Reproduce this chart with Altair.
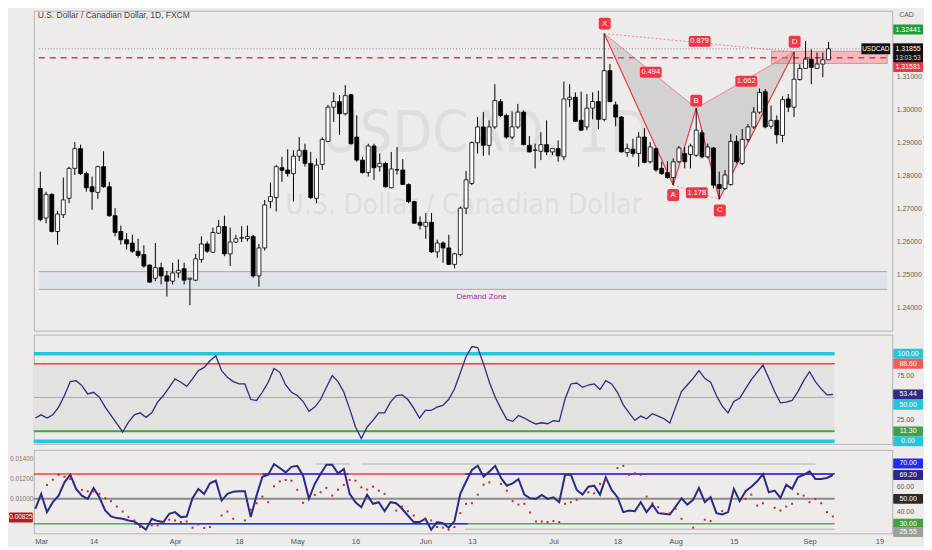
import altair as alt
import pandas as pd

# ---------------- values ----------------
opens = [1.2761,1.2671,1.2743,1.2630,1.2681,1.2731,1.2822,1.2882,1.2806,1.2766,
         1.2749,1.2827,1.2766,1.2678,1.2630,1.2605,1.2595,1.2570,1.2560,1.2528,
         1.2488,1.2520,1.2495,1.2479,1.2504,1.2517,1.2485,1.2482,1.2545,1.2592,
         1.2567,1.2625,1.2645,1.2562,1.2598,1.2610,1.2608,1.2615,1.2495,1.2580,
         1.2721,1.2733,1.2824,1.2817,1.2806,1.2859,1.2877,1.2837,1.2731,1.2834,
         1.2904,1.3008,1.3025,1.2988,1.3046,1.2917,1.2847,1.2809,1.2890,1.2827,
         1.2837,1.2763,1.2817,1.2817,1.2773,1.2721,1.2658,1.2646,1.2658,1.2568,
         1.2595,1.2580,1.2530,1.2560,1.2701,1.2776,1.2900,1.2948,1.2892,1.2948,
         1.3025,1.2983,1.2917,1.2948,1.2993,1.2892,1.2877,1.2874,1.2894,1.2872,
         1.2882,1.2857,1.3031,1.3038,1.2968,1.2948,1.3005,1.3025,1.2971,1.3119,
         1.3015,1.2978,1.2870,1.2880,1.2867,1.2917,1.2842,1.2882,1.2822,1.2809,
         1.2794,1.2842,1.2867,1.2864,1.2862,1.2930,1.2857,1.2884,1.2773,1.2761,
         1.2773,1.2904,1.2837,1.2910,1.2948,1.2993,1.3055,1.2950,1.2968,1.2922,
         1.3033,1.3008,1.3092,1.3126,1.3154,1.3126,1.3139,1.3152]
highs = [1.2812,1.2751,1.2746,1.2693,1.2794,1.2827,1.2902,1.2894,1.2812,1.2797,
         1.2830,1.2874,1.2781,1.2701,1.2648,1.2625,1.2620,1.2608,1.2588,1.2530,
         1.2595,1.2535,1.2510,1.2535,1.2545,1.2535,1.2489,1.2562,1.2615,1.2600,
         1.2642,1.2665,1.2678,1.2642,1.2620,1.2646,1.2648,1.2620,1.2592,1.2726,
         1.2779,1.2832,1.2857,1.2880,1.2877,1.2917,1.2897,1.2872,1.2852,1.2917,
         1.3015,1.3053,1.3045,1.3075,1.3048,1.2983,1.2857,1.2897,1.2897,1.2867,
         1.2842,1.2872,1.2887,1.2850,1.2776,1.2723,1.2676,1.2686,1.2686,1.2605,
         1.2600,1.2620,1.2565,1.2706,1.2814,1.2904,1.2978,1.2993,1.2968,1.3078,
         1.3033,1.2988,1.2995,1.3018,1.2998,1.2920,1.2897,1.2932,1.2968,1.2884,
         1.2907,1.3086,1.3078,1.3053,1.3055,1.3048,1.3053,1.3058,1.3232,1.3139,
         1.3025,1.2981,1.2897,1.2912,1.2932,1.2944,1.2902,1.2885,1.2842,1.2844,
         1.2852,1.2890,1.2887,1.2897,1.3005,1.2938,1.2897,1.2887,1.2812,1.2817,
         1.2927,1.2922,1.2942,1.2957,1.3008,1.3065,1.3063,1.3013,1.2983,1.3041,
         1.3048,1.3176,1.3139,1.3209,1.3184,1.3174,1.3174,1.3206]
lows = [1.2661,1.2655,1.2627,1.2590,1.2671,1.2716,1.2802,1.2802,1.2751,1.2696,
        1.2729,1.2763,1.2675,1.2615,1.2590,1.2575,1.2565,1.2550,1.2520,1.2474,
        1.2479,1.2469,1.2432,1.2469,1.2489,1.2469,1.2406,1.2479,1.2535,1.2565,
        1.2565,1.2623,1.2555,1.2525,1.2595,1.2598,1.2600,1.2489,1.2462,1.2572,
        1.2701,1.2691,1.2781,1.2797,1.2721,1.2844,1.2827,1.2729,1.2716,1.2817,
        1.2902,1.2963,1.2924,1.2983,1.2894,1.2842,1.2806,1.2797,1.2787,1.2812,
        1.2763,1.2761,1.2803,1.2771,1.2716,1.2654,1.2636,1.2608,1.2565,1.2550,
        1.2535,1.2528,1.2518,1.2555,1.2683,1.2771,1.2867,1.2860,1.2862,1.2942,
        1.2978,1.2912,1.2910,1.2942,1.2892,1.2870,1.2822,1.2847,1.2862,1.2862,
        1.2842,1.2847,1.3008,1.2963,1.2935,1.2938,1.2971,1.2941,1.2965,1.3023,
        1.2950,1.2870,1.2857,1.2857,1.2827,1.2837,1.2837,1.2812,1.2802,1.2791,
        1.2771,1.2839,1.2822,1.2822,1.2857,1.2852,1.2852,1.2761,1.2728,1.2756,
        1.2769,1.2837,1.2832,1.2902,1.2942,1.2988,1.2944,1.2942,1.2897,1.2902,
        1.2993,1.2978,1.3089,1.3124,1.3078,1.3124,1.3099,1.3152]
closes = [1.2666,1.2743,1.2630,1.2683,1.2726,1.2822,1.2882,1.2806,1.2763,1.2751,
          1.2827,1.2766,1.2678,1.2627,1.2605,1.2592,1.2570,1.2557,1.2525,1.2476,
          1.2520,1.2495,1.2479,1.2504,1.2512,1.2482,1.2488,1.2547,1.2592,1.2570,
          1.2627,1.2645,1.2562,1.2598,1.2608,1.2611,1.2615,1.2495,1.2580,1.2711,
          1.2736,1.2827,1.2816,1.2806,1.2859,1.2877,1.2837,1.2733,1.2832,1.2910,
          1.3008,1.3025,1.2988,1.3043,1.2897,1.2847,1.2809,1.2890,1.2824,1.2837,
          1.2766,1.2820,1.2818,1.2773,1.2721,1.2655,1.2649,1.2658,1.2568,1.2595,
          1.2580,1.2530,1.2562,1.2701,1.2787,1.2900,1.2948,1.2892,1.2948,1.3028,
          1.2983,1.2917,1.2948,1.2993,1.2894,1.2872,1.2878,1.2894,1.2872,1.2882,
          1.2860,1.3033,1.3038,1.2965,1.2938,1.3005,1.3025,1.2971,1.3119,1.3025,
          1.2978,1.2872,1.2882,1.2867,1.2917,1.2840,1.2887,1.2817,1.2806,1.2794,
          1.2842,1.2884,1.2842,1.2890,1.2938,1.2857,1.2887,1.2771,1.2761,1.2802,
          1.2904,1.2842,1.2910,1.2948,1.2993,1.3053,1.2948,1.2968,1.2924,1.3031,
          1.3008,1.3093,1.3126,1.3154,1.3129,1.3139,1.3152,1.31855]

osc_a = [26.5,30.2,26.5,30.2,39,52.3,68.2,69.3,63.6,54.1,56,50.3,39,29.5,20,10.6,21.9,30.2,32.5,27.3,
         32.5,44.7,52.3,61.7,71.2,67.4,62.8,71.2,80.7,84.4,92,97.7,80.7,73.1,68.2,65.5,65.5,47.7,46.6,56,
         67.4,83.3,78.8,64.3,56,52.3,45.4,34.1,39,47.7,61.7,75,68.2,56,37,16.3,3,16.3,23.9,32.5,
         32.5,44.7,52.3,53,47.7,37.8,26.5,35.2,35.2,39,40.9,47.7,59.8,78,97,108.3,107.2,88.2,67.4,50.3,
         37,25,22.7,29.5,26.5,22.7,19.7,21.1,20,23.4,22.7,48.4,65.5,66.6,61.7,64.3,65.5,59.1,69.3,65.5,
         56,41.6,32.5,23.9,28.8,25.7,31.4,28.8,25.7,20.8,39,56.8,64.3,71.9,80.7,71.9,67.4,52.3,40.1,32.5,
         45.4,49.2,59.8,70.5,78.8,87.2,71.9,56.8,43.9,44.7,46.6,56.8,69.3,79.5,68.2,59.8,53,53.44]

osc_b = [42,54,39.3,47.3,52.6,63.3,69.4,58,52.6,50,58.8,51.3,40.6,35.8,34.5,34,32.6,31.8,28.6,25.2,
         34,32.1,31.3,38,39.3,35.3,35.8,50.5,58,54,62.5,64.6,48.6,54,55.8,56.1,56.1,35.3,52.6,67.8,
         69.4,78,74.8,71.3,75.8,76.6,68.6,50,62,70,77.4,77.4,70.5,74,54,47.3,43.3,53.2,46,47.3,
         40.1,47.3,46.5,42,36.6,31.3,31.3,34,25.2,31.3,30.5,26.8,32.1,54,64,73.2,76.6,67.8,72.1,76.6,
         66.8,60.6,62.5,66,53.4,50.5,50,53.2,50,51.3,47.3,69.4,69.4,57.2,53.4,59.8,60.6,53.4,67.3,57.2,
         51.3,39.3,40.6,40.1,47.3,39.3,45.4,38.5,38,37.4,43.8,50.5,45.4,49.2,58.8,47.3,51.3,38.5,37.4,39.3,
         58,48.1,56.1,59.8,64.1,70,55.3,56.6,50.8,61.4,58,67.3,69.4,72.1,66,66,66.8,69.2]

dot_i = [2,3,4,5,6,8,9,10,11,12,13,14,15,16,17,18,20,21,22,23,24,25,26,27,28,29,30,32,33,34,
         36,37,38,39,40,41,42,43,44,45,46,48,49,50,51,52,53,54,55,56,57,58,59,60,62,63,64,65,67,68,
         69,70,71,72,73,74,75,76,77,78,80,81,82,83,84,85,86,87,88,89,90,91,92,93,95,96,97,98,100,101,
         102,103,104,105,106,107,108,109,110,111,113,115,116,118,122,123,124,125,127,128,129,130,131,132,
         133,134,135,136,137]
dot_v = [61.2,65.4,69.4,67.8,66,57.2,56.1,56.1,54,50.5,48.1,43.8,39.8,35.3,32.6,27.3,28.6,28.6,31.3,33.2,
         32.6,31.3,31.8,26.8,29.4,26.5,27.3,36.6,39.8,34,32.6,41.2,46.5,51.8,47.3,60.1,64.1,65.2,64.6,57.2,
         46.8,53.2,55.3,58.8,52.6,57.4,61.2,65.2,64.6,59.3,57.4,59.8,56.6,54,40.6,43.8,40.1,36.6,34,32.6,
         27.3,26.8,25.2,27.3,38.5,46,46.5,53.4,61.4,63.3,62,56.6,48.1,45.4,46,39,31.8,31.8,31.3,32.1,
         31.3,46,47.3,49.2,55.3,54.5,62,65.2,74.8,76.6,69.4,70.5,69.4,51.8,46.5,43.3,38,38.5,42,34,
         26.8,33.2,32.1,40.1,50,53.4,44.6,46.5,42.8,40.6,43.8,46,54,52.6,47.3,50,46.5,39.3,35.8]

tick_pos = [1, 10, 24, 35, 45, 55, 67, 75, 89, 100, 110, 120, 133, 145]
tick_txt = ['Mar', '14', 'Apr', '18', 'May', '16', 'Jun', '13', 'Jul', '18', 'Aug', '15', 'Sep', '19']
price_ticks = [1.24, 1.25, 1.26, 1.27, 1.28, 1.29, 1.30, 1.31]

pat_name = ['X', 'A', 'B', 'C', 'D']
pat_i = [98, 110, 114, 118, 131]
pat_p = [1.3232, 1.2771, 1.3005, 1.2728, 1.3176]
pat_lab_i = [98.1, 110.0, 114.0, 118.1, 131.1]
pat_lab_p = [1.3262, 1.2741, 1.3028, 1.2694, 1.3207]
ratio_txt = ['0.494', '0.879', '1.662', '1.178']
ratio_i = [106.1, 114.6, 122.7, 114.1]
ratio_p = [1.3114, 1.3208, 1.3087, 1.2748]

demand_lo, demand_hi = 1.2454, 1.2508
prz_i0, prz_lo, prz_hi = 127.1, 1.3141, 1.3178
last_price, high_price, level_price = 1.31855, 1.32441, 1.31581

osc_a_levels = [100, 88.6, 50, 11.3, 0]
osc_b_levels = [70, 50, 30]

# ---------------- layout / styles ----------------
W, HM, HR, HO = 864, 322, 110, 84
XDOM = [-0.26, 147.2]
N = len(opens)
LAST = N - 1 + 0.3
FONT = 'Liberation Sans'
WM_FONT = 'Liberation Sans Narrow, DejaVu Sans Condensed, Liberation Sans'

xs = alt.Scale(domain=XDOM, nice=False, zero=False)


def X(f, axis=None):
    return alt.X(f, type='quantitative', scale=xs, axis=axis, title=None)


def make_y(domain, axis):
    sc = alt.Scale(domain=domain, nice=False, zero=False)

    def enc(f):
        return alt.Y(f, type='quantitative', scale=sc, axis=axis, title=None)
    return enc


def raxis(values, fmt):
    return alt.Axis(orient='right', values=values, format=fmt, labelFontSize=7, labelColor='#5e5e5e',
                    ticks=False, domain=False, grid=False, labelPadding=4, minExtent=31, maxExtent=31,
                    title=None, labelFont=FONT)


YM = make_y([1.23285, 1.33012], raxis(price_ticks, '.5f'))
YR = make_y([-3.07, 121.93], raxis([25, 75], '.2f'))
YOb = make_y([22.24, 89.44], raxis([40, 60], '.2f'))

xexpr = ' : '.join("datum.value == %s ? '%s'" % (p, t) for p, t in zip(tick_pos, tick_txt)) + " : ''"
x_bottom_axis = alt.Axis(values=tick_pos, labelExpr=xexpr, labelFontSize=7.5, labelColor='#555555',
                         ticks=False, domain=False, grid=False, labelPadding=4, labelFlush=False,
                         title=None, labelFont=FONT)


def box(Y, val, label, fill, dy=0, h=10, x0=W + 1, x1=W + 31, tcolor='white', fs=7):
    d = pd.DataFrame({'v': [val], 't': [label]})
    b = alt.Chart(d)
    r = b.mark_rect(fill=fill, yOffset=dy - h / 2, y2Offset=dy + h / 2, cornerRadius=1).encode(
        x=alt.value(x0), x2=alt.value(x1), y=Y('v'), y2='v')
    t = b.mark_text(color=tcolor, fontSize=fs, dy=dy, align='center', baseline='middle', font=FONT).encode(
        x=alt.value((x0 + x1) / 2), y=Y('v'), text='t')
    return [r, t]


# ---------------- main price panel ----------------
cdf = pd.DataFrame({'i': list(range(N)), 'o': opens, 'h': highs, 'l': lows, 'c': closes})
cdf['fillc'] = ['#ffffff' if c >= o else '#000000' for o, c in zip(opens, closes)]

zone = alt.Chart(pd.DataFrame({'a': [XDOM[0]], 'b': [XDOM[1]], 'lo': [demand_lo], 'hi': [demand_hi]})
                 ).mark_rect(fill='#dfe4ea').encode(x=X('a'), x2='b', y=YM('lo'), y2='hi')
zlines = alt.Chart(pd.DataFrame({'a': [XDOM[0]] * 2, 'b': [XDOM[1]] * 2, 'p': [demand_lo, demand_hi]})
                   ).mark_rule(color='#e58a9a', strokeWidth=1).encode(x=X('a'), x2='b', y=YM('p'))
zone_txt = alt.Chart(pd.DataFrame({'i': [76.7], 'p': [1.2431], 't': ['Demand Zone']})).mark_text(
    color='#9c27b0', fontSize=8, font=FONT).encode(x=X('i'), y=YM('p'), text='t')

wm = alt.Chart(pd.DataFrame({'t': ['USDCAD, 1D', 'U.S. Dollar / Canadian Dollar'], 'i': [77.4, 73.6],
                             'p': [1.2922, 1.2706], 'fs': [58, 28]})).mark_text(
    color='#e0dedc', font=WM_FONT, baseline='middle').encode(
    x=X('i'), y=YM('p'), text='t', size=alt.Size('fs:Q', scale=None))

prz = alt.Chart(pd.DataFrame({'a': [prz_i0], 'b': [XDOM[1]], 'lo': [prz_lo], 'hi': [prz_hi]})).mark_rect(
    fill='#f5aab4', opacity=0.75, stroke='#f23645', strokeWidth=0.7).encode(x=X('a'), x2='b', y=YM('lo'), y2='hi')


def lerp(i, a, b):
    return pat_p[a] + (pat_p[b] - pat_p[a]) * (i - pat_i[a]) / (pat_i[b] - pat_i[a])


tri = pd.DataFrame({
    'tri': ['XAB'] * 3 + ['BCD'] * 3,
    'i': [pat_i[0], pat_i[1], pat_i[2], pat_i[2], pat_i[3], pat_i[4]],
    'lo': [pat_p[0], pat_p[1], pat_p[2], pat_p[2], pat_p[3], pat_p[4]],
    'hi': [pat_p[0], lerp(pat_i[1], 0, 2), pat_p[2], pat_p[2], lerp(pat_i[3], 2, 4), pat_p[4]],
})
tri_area = alt.Chart(tri).mark_area(color='#9a9a9a', opacity=0.32).encode(
    x=X('i'), y=YM('lo'), y2='hi', detail='tri:N')


def segs(pairs):
    rows = []
    for k, (a, b) in enumerate(pairs):
        rows.append({'s': k, 'i': pat_i[a], 'p': pat_p[a]})
        rows.append({'s': k, 'i': pat_i[b], 'p': pat_p[b]})
    return pd.DataFrame(rows)


legs = alt.Chart(segs([(0, 1), (1, 2), (2, 3), (3, 4)])).mark_line(color='#f23645', strokeWidth=1.2).encode(
    x=X('i'), y=YM('p'), detail='s:N')
diags = alt.Chart(segs([(0, 2), (2, 4)])).mark_line(color='#f36b78', strokeWidth=0.8).encode(
    x=X('i'), y=YM('p'), detail='s:N')
dashes = alt.Chart(segs([(0, 4), (1, 3)])).mark_line(color='#f36b78', strokeWidth=0.8, strokeDash=[2, 2]).encode(
    x=X('i'), y=YM('p'), detail='s:N')

wicks = alt.Chart(cdf).mark_rule(color='#000000', strokeWidth=1).encode(x=X('i'), y=YM('l'), y2='h')
bodies = alt.Chart(cdf).mark_bar(size=4, stroke='#000000', strokeWidth=0.8).encode(
    x=X('i'), y=YM('o'), y2='c', color=alt.Color('fillc:N', scale=None))

hl = pd.DataFrame({'a': [XDOM[0]], 'b': [XDOM[1]], 'p': [level_price], 'q': [last_price]})
red_dash = alt.Chart(hl).mark_rule(color='#e8333f', strokeWidth=1.5, strokeDash=[6, 5]).encode(
    x=X('a'), x2='b', y=YM('p'))
dot_line = alt.Chart(hl).mark_rule(color='#8a8a8a', strokeWidth=1, strokeDash=[1, 2]).encode(
    x=X('a'), x2='b', y=YM('q'))

pl = pd.DataFrame({'i': pat_lab_i, 'p': pat_lab_p, 't': pat_name})
pl_rect = alt.Chart(pl).mark_rect(fill='#f23645', cornerRadius=2, xOffset=-6, x2Offset=6,
                                  yOffset=-6, y2Offset=6).encode(x=X('i'), x2='i', y=YM('p'), y2='p')
pl_txt = alt.Chart(pl).mark_text(color='white', fontSize=8, font=FONT).encode(x=X('i'), y=YM('p'), text='t')
rl = pd.DataFrame({'i': ratio_i, 'p': ratio_p, 't': ratio_txt})
rl_rect = alt.Chart(rl).mark_rect(fill='#f23645', cornerRadius=2, xOffset=-11, x2Offset=11,
                                  yOffset=-5.5, y2Offset=5.5).encode(x=X('i'), x2='i', y=YM('p'), y2='p')
rl_txt = alt.Chart(rl).mark_text(color='white', fontSize=7.5, font=FONT).encode(x=X('i'), y=YM('p'), text='t')

title_txt = alt.Chart(pd.DataFrame({'t': ['U.S. Dollar / Canadian Dollar, 1D, FXCM']})).mark_text(
    align='left', baseline='middle', fontSize=8.5, color='#474747', font=FONT).encode(
    x=alt.value(4), y=alt.value(4), text='t')
cad_txt = alt.Chart(pd.DataFrame({'t': ['CAD']})).mark_text(
    align='left', baseline='middle', fontSize=7, color='#555555', font=FONT).encode(
    x=alt.value(W + 7), y=alt.value(4), text='t')

main_boxes = []
main_boxes += box(YM, high_price, '1.32441', '#1e9e3a')
main_boxes += box(YM, level_price, '1.31581', '#f23645', dy=9.3)
last_df = pd.DataFrame({'v': [last_price], 't': ['1.31855'], 't2': ['13:03:53'], 's': ['USDCAD']})
main_boxes.append(alt.Chart(last_df).mark_rect(fill='#111111', yOffset=-5.5, y2Offset=13.5).encode(
    x=alt.value(W + 1), x2=alt.value(W + 31), y=YM('v'), y2='v'))
main_boxes.append(alt.Chart(last_df).mark_text(color='white', fontSize=7, font=FONT).encode(
    x=alt.value(W + 16), y=YM('v'), text='t'))
main_boxes.append(alt.Chart(last_df).mark_text(color='#d8d8d8', fontSize=6.5, dy=9, font=FONT).encode(
    x=alt.value(W + 16), y=YM('v'), text='t2'))
main_boxes.append(alt.Chart(last_df).mark_rect(fill='#111111', yOffset=-5.5, y2Offset=5.5).encode(
    x=alt.value(W - 31), x2=alt.value(W - 2), y=YM('v'), y2='v'))
main_boxes.append(alt.Chart(last_df).mark_text(color='white', fontSize=6.5, font=FONT).encode(
    x=alt.value(W - 16.5), y=YM('v'), text='s'))

main = alt.layer(zone, zlines, zone_txt, wm, prz, red_dash, dot_line, tri_area, legs, diags, dashes,
                 wicks, bodies, pl_rect, pl_txt, rl_rect, rl_txt, title_txt, cad_txt, *main_boxes
                 ).properties(width=W, height=HM)

# ---------------- upper oscillator panel ----------------
a_cols = ['#26c6da', '#f44336', '#4dd0e1', '#43a047', '#26c6da']
a_w = [3.5, 1.6, 1, 2, 3.5]
band = alt.Chart(pd.DataFrame({'a': [XDOM[0]], 'b': [LAST], 'lo': [osc_a_levels[3]], 'hi': [osc_a_levels[1]]})
                 ).mark_rect(fill='#e4e2e0').encode(x=X('a'), x2='b', y=YR('lo'), y2='hi')
lv_a = pd.DataFrame({'v': osc_a_levels, 'col': a_cols, 'w': a_w, 'a': XDOM[0], 'b': LAST})
lv_a_rules = alt.Chart(lv_a).mark_rule().encode(
    x=X('a'), x2='b', y=YR('v'), color=alt.Color('col:N', scale=None),
    strokeWidth=alt.StrokeWidth('w:Q', scale=None))
a_line = alt.Chart(pd.DataFrame({'i': list(range(N)), 'v': osc_a})).mark_line(
    color='#2e2a85', strokeWidth=1.3).encode(x=X('i'), y=YR('v'))
a_boxes = []
a_boxes += box(YR, 100, '100.00', '#26c6da')
a_boxes += box(YR, 88.6, '88.60', '#f45b5b')
a_boxes += box(YR, 53.44, '53.44', '#2e2a85')
a_boxes += box(YR, 50, '50.00', '#26c6da', dy=7.4)
a_boxes += box(YR, 11.3, '11.30', '#43a047')
a_boxes += box(YR, 0, '0.00', '#26c6da')
rsi = alt.layer(band, lv_a_rules, a_line, *a_boxes).properties(width=W, height=HR)

# ---------------- lower oscillator panel ----------------
def XB(f):
    return X(f, axis=x_bottom_axis)


left_dummy = alt.Chart(pd.DataFrame({'i': [0, 0, 0], 'val': [0.010, 0.012, 0.014]})).mark_point(opacity=0).encode(
    x=XB('i'),
    y=alt.Y('val:Q', scale=alt.Scale(domain=[0.006613, 0.014812], nice=False, zero=False),
            axis=alt.Axis(orient='left', values=[0.010, 0.012, 0.014], format='.5f', labelFontSize=6.5,
                          labelColor='#7a7a7a', ticks=False, domain=False, grid=False, labelPadding=1,
                          minExtent=25, maxExtent=25, title=None, labelFont=FONT)))

b_cols = ['#f44336', '#8c8c8c', '#4caf50']
b_w = [1.6, 2, 1.6]
lv_b = pd.DataFrame({'v': osc_b_levels, 'col': b_cols, 'w': b_w, 'a': XDOM[0], 'b': LAST})
lv_b_rules = alt.Chart(lv_b).mark_rule().encode(
    x=XB('a'), x2='b', y=YOb('v'), color=alt.Color('col:N', scale=None),
    strokeWidth=alt.StrokeWidth('w:Q', scale=None))
blue_seg = pd.DataFrame({'a': [39, 73.8, 17], 'b': [53.8, LAST, 74.3], 'v': [70, 70, 30]})
blue_rules = alt.Chart(blue_seg).mark_rule(color='#1f2bff', strokeWidth=1.6).encode(
    x=XB('a'), x2='b', y=YOb('v'))
grey_seg = pd.DataFrame({'a': [48.2, 56, 73.8], 'b': [54, 134, LAST], 'v': [78, 78, 25.5]})
grey_rules = alt.Chart(grey_seg).mark_rule(color='#c4c4c4', strokeWidth=1.5).encode(
    x=XB('a'), x2='b', y=YOb('v'))
b_line = alt.Chart(pd.DataFrame({'i': list(range(N)), 'v': osc_b})).mark_line(
    color='#2a2a8c', strokeWidth=2).encode(x=XB('i'), y=YOb('v'))
b_dots = alt.Chart(pd.DataFrame({'i': dot_i, 'v': dot_v})).mark_point(
    shape='square', filled=True, size=4, color='#c62828', opacity=1).encode(x=XB('i'), y=YOb('v'))
b_boxes = []
b_boxes += box(YOb, 70, '70.00', '#1f2bff', dy=-10.6)
b_boxes += box(YOb, 69.2, '69.20', '#2a2a8c')
b_boxes += box(YOb, 50, '50.00', '#2b2b2b')
b_boxes += box(YOb, 30, '30.00', '#43a047')
b_boxes += box(YOb, 25.55, '25.55', '#9e9e9e', dy=2.8)
b_boxes += box(YOb, 35, '0.00825', '#b71c1c', x0=-25, x1=-1, fs=6.5)

right_layers = alt.layer(lv_b_rules, blue_rules, grey_rules, b_line, b_dots, *b_boxes)
osc = alt.layer(left_dummy, right_layers).resolve_scale(y='independent').properties(width=W, height=HO)

chart = alt.vconcat(main, rsi, osc, spacing=2).properties(padding=0).configure(
    background='#eeeceb', font=FONT).configure_view(stroke='#b3b3b3', strokeWidth=1)

chart.save("out.html", embed_options={"renderer": "svg", "actions": False})
